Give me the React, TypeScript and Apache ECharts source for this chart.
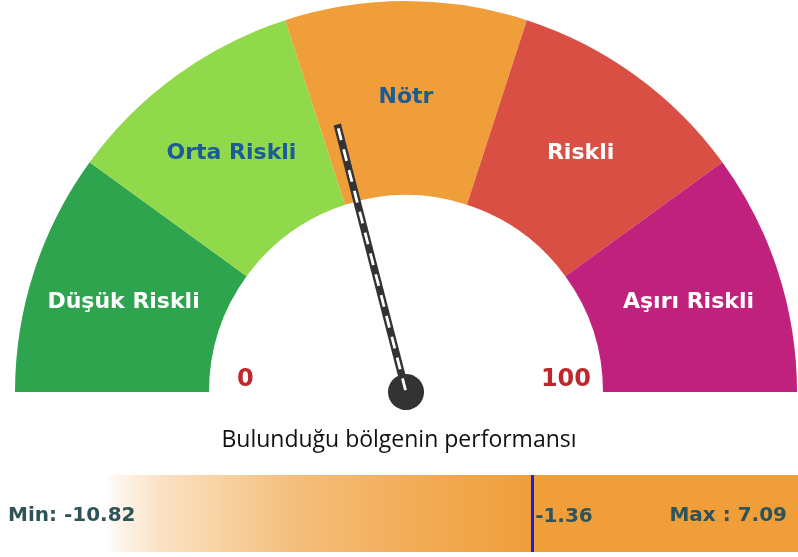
import React, { useEffect, useRef } from "react";
import * as echarts from "echarts";

// ---- data ----
const zoneNames = ["Düşük Riskli", "Orta Riskli", "Nötr", "Riskli", "Aşırı Riskli"];
const zoneShares = [20, 20, 20, 20, 20];
const zoneColors = ["#2ea44f", "#8fd94a", "#f09e3a", "#d94f43", "#c0217c"];
const zoneLabelColors = ["#ffffff", "#1a5b98", "#1a5b98", "#ffffff", "#ffffff"];
const gaugeTicks = [0, 100];
const needleValue = 42;

const perfTitle = "Bulunduğu bölgenin performansı";
const perfMin = -10.82;
const perfMax = 7.09;
const perfValue = -1.36;

function dashPath(dash: number, gap: number, n: number) {
  let d = "";
  for (let i = 0; i < n; i++) {
    const y0 = i * (dash + gap);
    const y1 = y0 + dash;
    d += `M0 ${y0} L1 ${y0} L1 ${y1} L0 ${y1} Z `;
  }
  return "path://" + d.trim();
}

export default function App() {
  const ref = useRef<HTMLDivElement>(null);
  useEffect(() => {
    if (!ref.current) return;
    const chart = echarts.init(ref.current, null, { renderer: "svg" });
    const cx = 406;
    const cy = 392;
    const R = 391;
    const r0 = 197;
    const needleLen = 276;
    const nDash = 13;
    const dash = 12;
    const gap = 9.5;
    const dashSpan = nDash * dash + (nDash - 1) * gap;

    const pieData: any[] = zoneNames.map((n, i) => ({
      name: n,
      value: zoneShares[i],
      itemStyle: { color: zoneColors[i] },
      label: { color: zoneLabelColors[i] },
    }));
    pieData.push({
      name: "",
      value: zoneShares.reduce((a, b) => a + b, 0),
      itemStyle: { color: "rgba(0,0,0,0)" },
      label: { show: false },
    });

    const hiddenGauge = {
      axisLine: { show: false },
      splitLine: { show: false, length: 0, distance: 0 },
      axisTick: { show: false },
      detail: { show: false },
      title: { show: false },
    };

    const labelGauge = (tick: number, radius: number) => ({
      type: "gauge",
      z: 5,
      center: [cx, 378],
      radius,
      startAngle: 180,
      endAngle: 0,
      min: gaugeTicks[0],
      max: gaugeTicks[gaugeTicks.length - 1],
      splitNumber: gaugeTicks.length - 1,
      ...hiddenGauge,
      pointer: { show: false },
      anchor: { show: false },
      axisLabel: {
        show: true,
        distance: 0,
        color: "#c0272d",
        fontFamily: "DejaVu Sans",
        fontWeight: "bold",
        fontSize: 24,
        formatter: (v: number) => (v === tick ? String(v) : ""),
      },
      data: [{ value: 0 }],
      silent: true,
    });

    chart.setOption({
      animation: false,
      title: {
        text: perfTitle,
        left: "center",
        top: 421,
        textStyle: {
          fontFamily: "Open Sans",
          fontWeight: "normal",
          fontSize: 23,
          color: "#111",
        },
      },
      grid: {
        left: 108,
        top: 475,
        width: 803,
        height: 77,
        outerBoundsMode: "none",
        containLabel: false,
      },
      xAxis: { type: "value", min: perfMin, max: perfMax, show: false },
      yAxis: { type: "value", min: 0, max: 1, show: false },
      series: [
        {
          type: "pie",
          z: 1,
          center: [cx, cy],
          radius: [r0, R],
          startAngle: 180,
          clockwise: true,
          silent: true,
          itemStyle: { borderWidth: 0 },
          label: {
            show: true,
            position: "inside",
            fontFamily: "DejaVu Sans",
            fontWeight: "bold",
            fontSize: 22,
            formatter: "{b}",
          },
          labelLine: { show: false },
          data: pieData,
        },
        labelGauge(gaugeTicks[0], 169),
        labelGauge(gaugeTicks[gaugeTicks.length - 1], 185),
        {
          type: "gauge",
          z: 6,
          center: [cx, cy],
          radius: R,
          startAngle: 180,
          endAngle: 0,
          min: gaugeTicks[0],
          max: gaugeTicks[gaugeTicks.length - 1],
          ...hiddenGauge,
          axisLabel: { show: false },
          pointer: { show: true, icon: "rect", width: 7.5, length: needleLen },
          itemStyle: { color: "#333333" },
          anchor: {
            show: true,
            size: 36,
            showAbove: false,
            itemStyle: { color: "#333333" },
          },
          data: [{ value: needleValue }],
          silent: true,
        },
        {
          type: "gauge",
          z: 7,
          center: [cx, cy],
          radius: R,
          startAngle: 180,
          endAngle: 0,
          min: gaugeTicks[0],
          max: gaugeTicks[gaugeTicks.length - 1],
          ...hiddenGauge,
          axisLabel: { show: false },
          pointer: {
            show: true,
            icon: dashPath(dash, gap, nDash),
            width: 2.8,
            length: dashSpan,
            offsetCenter: [0, -2],
          },
          itemStyle: { color: "#ffffff" },
          anchor: { show: false },
          data: [{ value: needleValue }],
          silent: true,
        },
        {
          type: "line",
          xAxisIndex: 0,
          yAxisIndex: 0,
          data: [
            [perfMin, 0.5],
            [perfMax, 0.5],
          ],
          symbol: "none",
          lineStyle: { opacity: 0, width: 0 },
          silent: true,
          markArea: {
            silent: true,
            data: [
              [
                {
                  xAxis: perfMin,
                  itemStyle: {
                    color: new echarts.graphic.LinearGradient(0, 0, 1, 0, [
                      { offset: 0, color: "rgba(240,158,58,0.04)" },
                      { offset: 0.12, color: "rgba(240,158,58,0.3)" },
                      { offset: 0.45, color: "rgba(240,158,58,0.68)" },
                      { offset: 0.8, color: "rgba(240,158,58,0.9)" },
                      { offset: 1, color: "rgba(240,158,58,1)" },
                    ]),
                  },
                },
                { xAxis: perfValue },
              ],
              [
                { xAxis: perfValue, itemStyle: { color: "#f09e3a" } },
                { xAxis: perfMax },
              ],
            ],
          },
          markLine: {
            silent: true,
            symbol: "none",
            label: { show: false },
            lineStyle: { color: "#1c1ce2", width: 3, type: "solid" },
            data: [{ xAxis: perfValue }],
          },
        },
      ],
    });

    const p = chart.convertToPixel({ gridIndex: 0 }, [perfValue, 0.5]) as number[];
    const textStyle = {
      fontFamily: "DejaVu Sans",
      fontWeight: "bold",
      fontSize: 20,
      fill: "#2e5358",
    };
    chart.setOption({
      graphic: [
        {
          type: "text",
          z: 100,
          left: 8,
          top: 504,
          style: { ...textStyle, text: `Min: ${perfMin}` },
        },
        {
          type: "text",
          z: 100,
          x: p[0] + 3,
          y: 515,
          style: { ...textStyle, text: `${perfValue}`, verticalAlign: "middle" },
        },
        {
          type: "text",
          z: 100,
          right: 11,
          top: 504,
          style: { ...textStyle, text: `Max : ${perfMax}` },
        },
      ],
    });

    return () => chart.dispose();
  }, []);
  return (
    <div
      ref={ref}
      style={{ position: "fixed", left: 0, top: 0, width: 798, height: 557 }}
    />
  );
}
